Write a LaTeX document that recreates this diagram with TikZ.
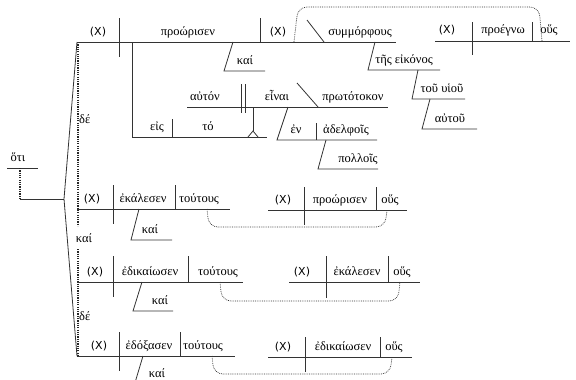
\documentclass[tikz,border=0pt]{standalone}
\usepackage{fontspec}
\setmainfont{Liberation Serif}
\newfontfamily\xfont{DejaVu Sans}
\begin{document}
\begin{tikzpicture}[x=1pt,y=-1pt,
  ln/.style={line width=0.8pt, black!80},
  dl/.style={line width=1.3pt, black!85, dash pattern=on 1.2pt off 1.1pt},
  dc/.style={line width=0.7pt, black!80, dash pattern=on 0.8pt off 1.0pt, rounded corners=9pt},
  gk/.style={font=\fontsize{12.5}{13}\selectfont, inner sep=0pt, anchor=base},
  xx/.style={font=\xfont\fontsize{11}{12}\selectfont, inner sep=0pt, anchor=base}]
\useasboundingbox (0,0) rectangle (576,380);
\clip (0,0) rectangle (576,380);

% ---------- hoti and bracket ----------
\node[gk] (hoti) at (18,161) {ὅτι};
\draw[ln] (7,168) -- (38,168);
\draw[dl] (20,168) -- (20,199);
\draw[ln] (20,199) -- (64,199);
\draw[ln] (77,42) -- (64,199) -- (77,356);
\draw[dl] (78,42) -- (78,226);
\draw[dl] (78,249) -- (78,356);
\node[gk, anchor=base west] (de1) at (79,123) {δέ};
\node[gk] (kai0) at (84,242) {καί};
\node[gk, anchor=base west] (de2) at (79,320) {δέ};

% ---------- top clause ----------
\draw[ln] (77,42) -- (396,42);
\draw[ln] (119,18) -- (119,57);
\draw[ln] (260,18) -- (260,42);
\node[xx] (x1) at (98,35) {(X)};
\node[gk] (v1) at (188,35) {προώρισεν};
\node[xx] (x2) at (278,35) {(X)};
\draw[ln] (307,20) -- (324,42);
\node[gk] (symm) at (360,35) {συμμόρφους};
% kai
\draw[ln] (233,42) -- (224,71) -- (265,71);
\node[gk] (kai1) at (245,64) {καί};
% tes eikonos
\draw[ln] (375,42) -- (368,70) -- (440,70);
\node[gk] (eik) at (404,63) {τῆς εἰκόνος};
\draw[ln] (418,70) -- (412,99) -- (465,99);
\node[gk] (huiou) at (442,92) {τοῦ υἱοῦ};
\draw[ln] (430,99) -- (422,129) -- (477,129);
\node[gk] (autou) at (450,122) {αὐτοῦ};

% eis to infinitive
\draw[ln] (132,42) -- (132,137) -- (267,137);
\draw[ln] (172,119) -- (172,137);
\node[gk] (eis) at (157,130) {εἰς};
\node[gk] (to) at (208,130) {τό};
\draw[ln] (253,107) -- (253,131);
\draw[ln] (248,137) -- (253,131) -- (258,137);
\draw[ln] (187,107) -- (388,107);
\draw[ln] (241,84) -- (241,113);
\draw[ln] (245,84) -- (245,113);
\node[gk] (auton) at (205,100) {αὐτόν};
\node[gk] (einai) at (277,100) {εἶναι};
\draw[ln] (297,83) -- (318,107);
\node[gk] (proto) at (353,100) {πρωτότοκον};
\draw[ln] (288,107) -- (277,140) -- (377,140);
\draw[ln] (316,123) -- (316,140);
\node[gk] (en) at (296,133) {ἐν};
\node[gk] (adel) at (346,133) {ἀδελφοῖς};
\draw[ln] (326,140) -- (318,169) -- (378,169);
\node[gk] (poll) at (358,162) {πολλοῖς};

% right clause top
\draw[ln] (435,41) -- (570,41);
\draw[ln] (472,22) -- (472,55);
\draw[ln] (532,22) -- (532,41);
\node[xx] (x3) at (447,34) {(X)};
\node[gk] (proegno) at (503,34) {προέγνω};
\node[gk] (hous1) at (549,34) {οὕς};
\draw[dc] (294,42) -- (298,7) -- (539,7) -- (542,41);

% ---------- row 2 ----------
\draw[ln] (77,209) -- (230,209);
\draw[ln] (113,185) -- (113,224);
\draw[ln] (175,185) -- (175,209);
\node[xx] (x4) at (92,202) {(X)};
\node[gk] (ekalesen1) at (143,202) {ἐκάλεσεν};
\node[gk] (tout1) at (199,202) {τούτους};
\draw[ln] (139,209) -- (131,240) -- (172,240);
\node[gk] (kai2) at (150,233) {καί};
\draw[ln] (268,210) -- (407,210);
\draw[ln] (304,187) -- (304,225);
\draw[ln] (376,187) -- (376,210);
\node[xx] (x5) at (283,203) {(X)};
\node[gk] (proor2) at (340,203) {προώρισεν};
\node[gk] (hous2) at (390,203) {οὕς};
\draw[dc] (207,209) -- (209,227) -- (385,227) -- (387,210);

% ---------- row 3 ----------
\draw[ln] (77,282) -- (243,282);
\draw[ln] (113,256) -- (113,297);
\draw[ln] (188,256) -- (188,282);
\node[xx] (x6) at (95,275) {(X)};
\node[gk] (edik1) at (150,275) {ἐδικαίωσεν};
\node[gk] (tout2) at (218,275) {τούτους};
\draw[ln] (142,282) -- (133,311) -- (173,311);
\node[gk] (kai3) at (160,304) {καί};
\draw[ln] (289,282) -- (420,282);
\draw[ln] (326,256) -- (326,298);
\draw[ln] (388,256) -- (388,282);
\node[xx] (x7) at (302,275) {(X)};
\node[gk] (ekal2) at (357,275) {ἐκάλεσεν};
\node[gk] (hous3) at (402,275) {οὕς};
\draw[dc] (220,282) -- (222,301) -- (398,301) -- (400,282);

% ---------- row 4 ----------
\draw[ln] (77,356) -- (235,356);
\draw[ln] (119,332) -- (119,371);
\draw[ln] (180,332) -- (180,356);
\node[xx] (x8) at (99,349) {(X)};
\node[gk] (edox) at (149,349) {ἐδόξασεν};
\node[gk] (tout3) at (203,349) {τούτους};
\draw[ln] (143,356) -- (134,386) -- (176,386);
\node[gk] (kai4) at (157,377) {καί};
\draw[ln] (268,357) -- (412,357);
\draw[ln] (305,337) -- (305,372);
\draw[ln] (380,337) -- (380,357);
\node[xx] (x9) at (283,350) {(X)};
\node[gk] (edik2) at (343,350) {ἐδικαίωσεν};
\node[gk] (hous4) at (394,350) {οὕς};
\draw[dc] (212,356) -- (214,374) -- (390,374) -- (392,357);
\end{tikzpicture}
\end{document}
